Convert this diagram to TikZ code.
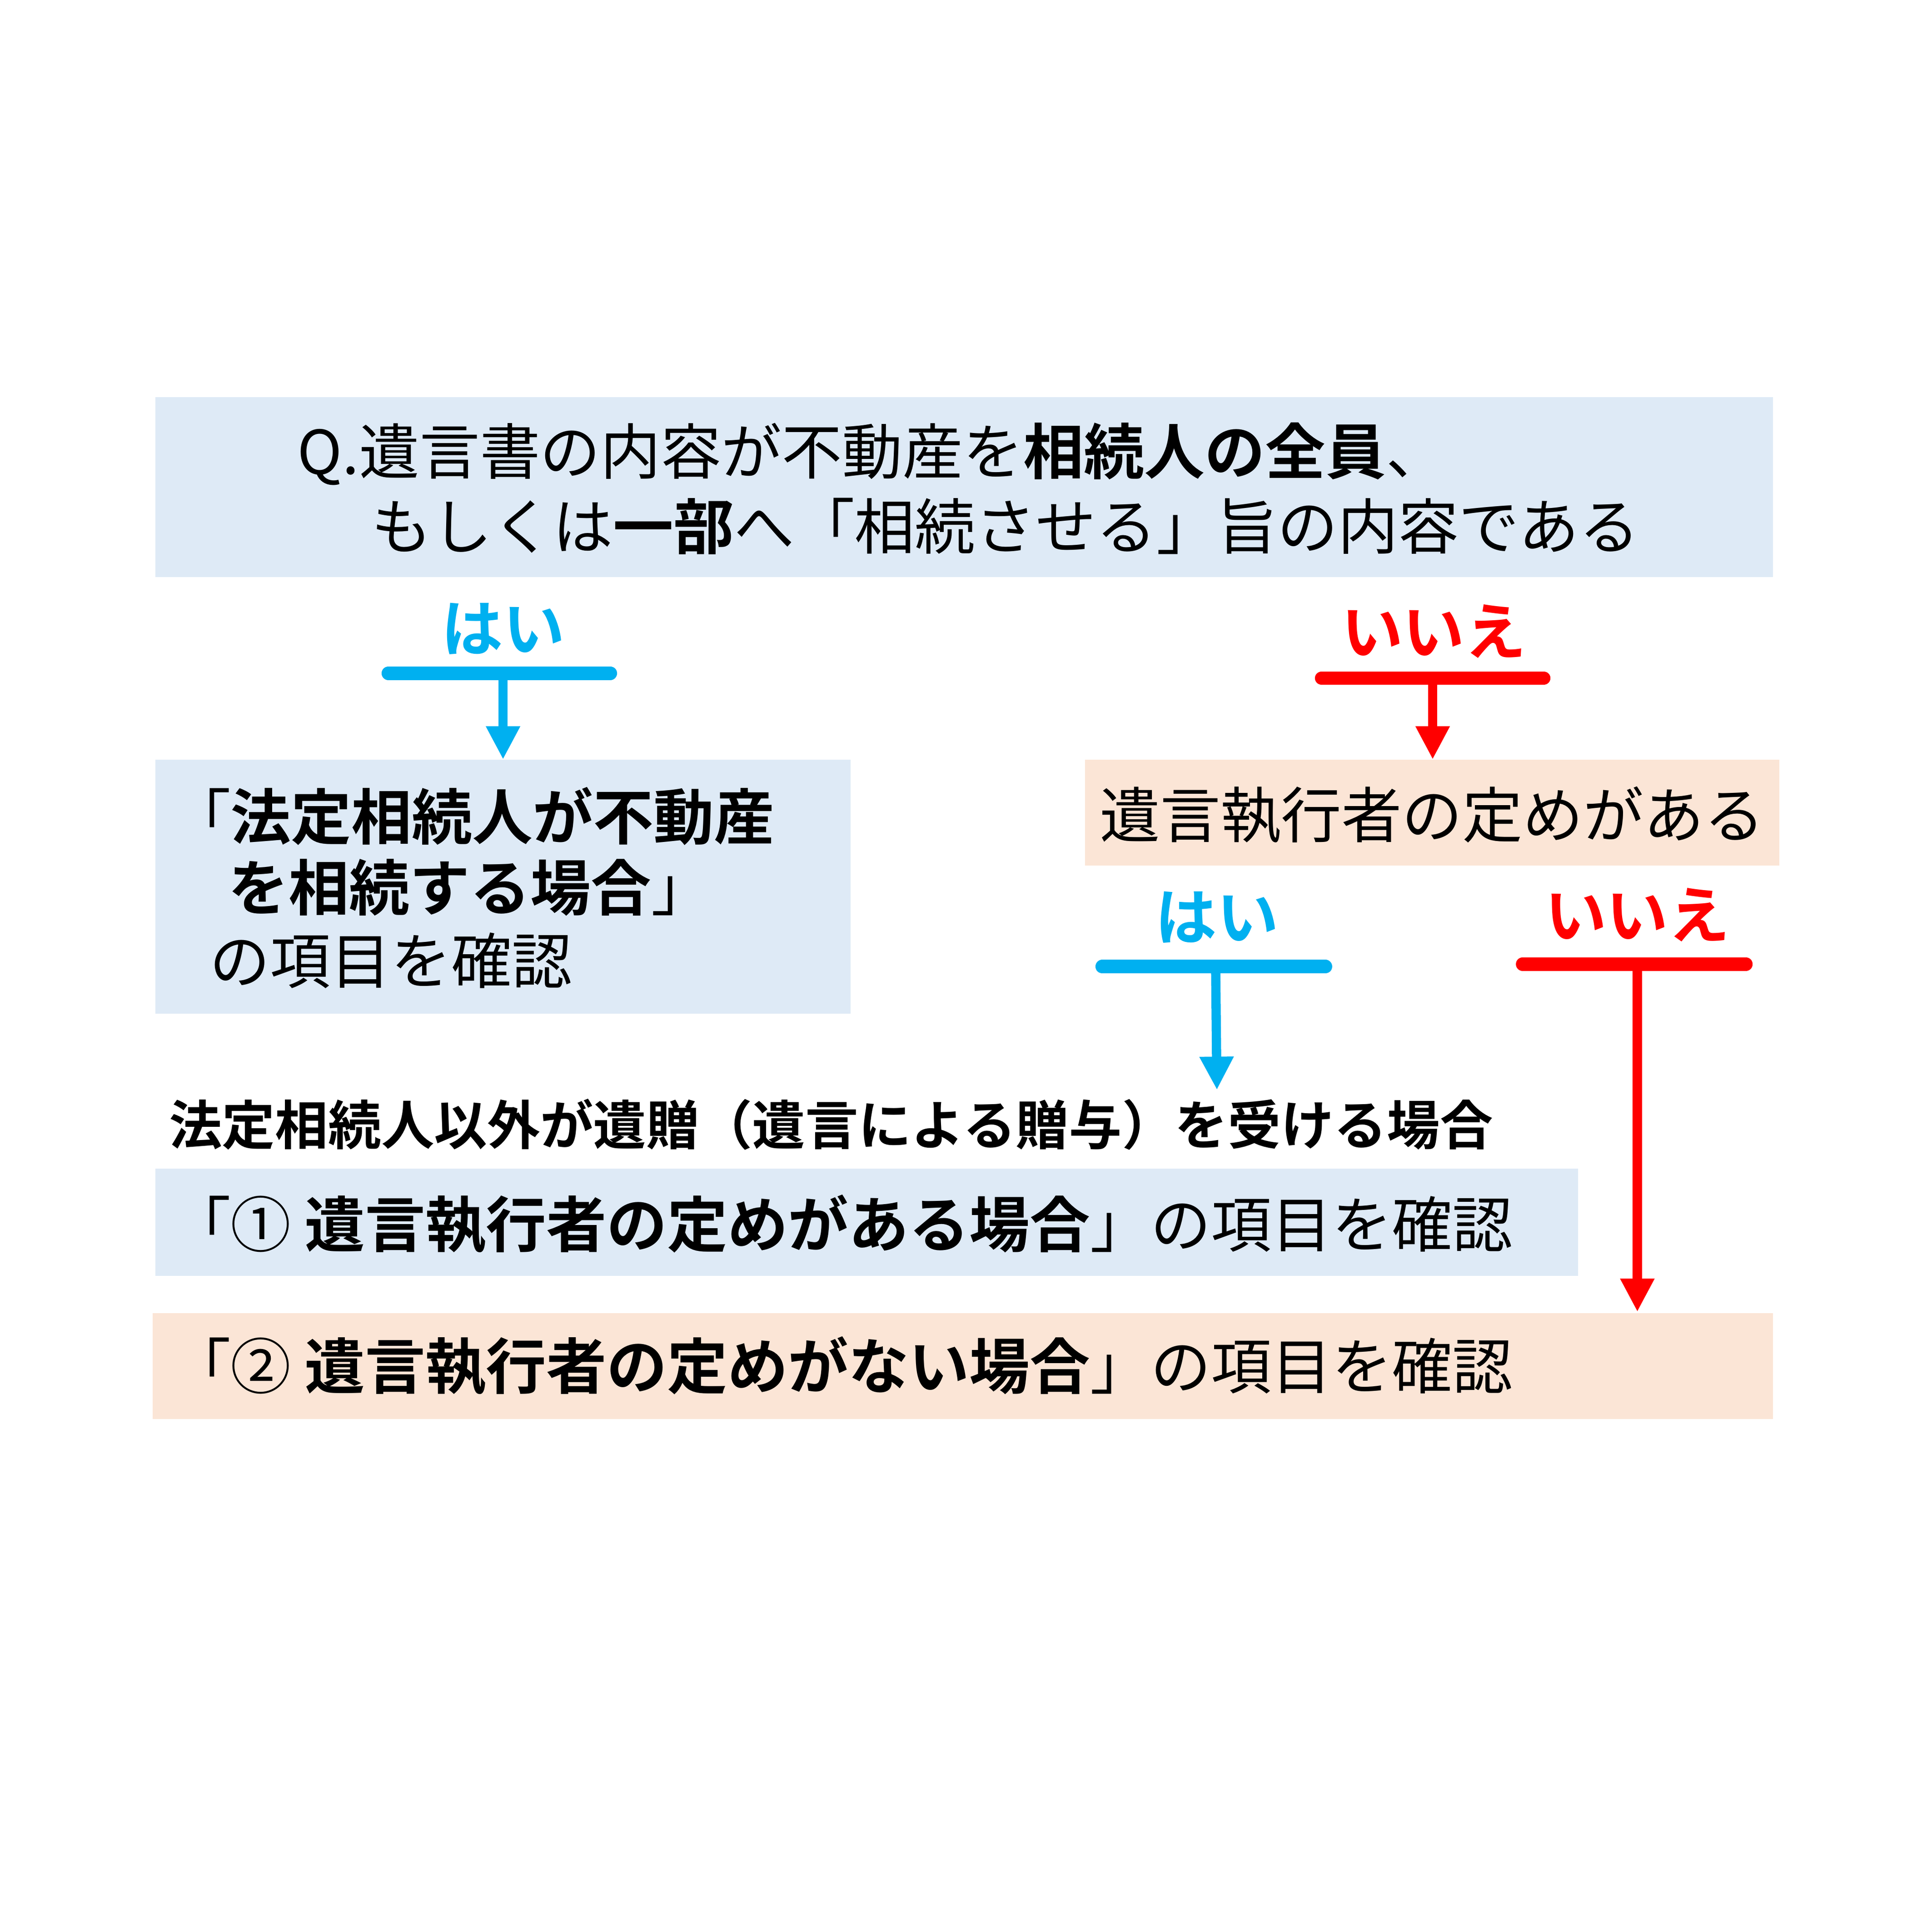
\documentclass[tikz,border=0pt]{standalone}
\usepackage{fontspec}
\setmainfont{Noto Sans CJK JP}[BoldFont={Noto Sans CJK JP Bold}]
\usetikzlibrary{arrows.meta}
\definecolor{boxblue}{HTML}{DEEAF6}
\definecolor{boxpeach}{HTML}{FBE5D6}
\definecolor{yesblue}{HTML}{00B0F0}
\definecolor{nored}{HTML}{FF0000}
\tikzset{
  bluebox/.style={fill=boxblue,draw=none},
  peachbox/.style={fill=boxpeach,draw=none},
  txt/.style={anchor=west,inner sep=0pt,font=\fontsize{49}{58}\selectfont},
  yeslbl/.style={inner sep=0pt,text=yesblue,font=\fontsize{50}{58}\selectfont\bfseries},
  nolbl/.style={inner sep=0pt,text=nored,font=\fontsize{50}{58}\selectfont\bfseries},
  bar/.style={line width=11pt,line cap=round},
  flow/.style={line width=7.5pt,-{Triangle[length=27pt,width=26pt]}},
}
\begin{document}
\begin{tikzpicture}[x=1pt,y=-1pt]
\useasboundingbox[fill=white] (0,0) rectangle (1567,1567);
% boxes
\fill[bluebox] (126,322) rectangle (1438,468);
\fill[bluebox] (126,616) rectangle (690,822);
\fill[peachbox] (880,616) rectangle (1443,702);
\fill[bluebox] (126,948) rectangle (1280,1035);
\fill[peachbox] (124,1065) rectangle (1438,1151);
\coordinate (lbtop) at (408,616);
\coordinate (rbtop) at (1162,616);
\coordinate (r1top) at (987,884);
\coordinate (r2top) at (1328,1064);
% question
\node[txt] (q1) at (241,368) {Q.遺言書の内容が不動産を\textbf{相続人の全員}、};
\node[txt] (q2) at (301,427) {もしくは\textbf{一部}へ「相続させる」旨の内容である};
% first yes/no
\node[yeslbl] (yes1) at (408,510) {はい};
\node[nolbl] (no1) at (1163,512) {いいえ};
\coordinate (yb1l) at (315,546); \coordinate (yb1r) at (495,546); \coordinate (yb1m) at (408,546);
\coordinate (nb1l) at (1072,550); \coordinate (nb1r) at (1252,550); \coordinate (nb1m) at (1162,550);
\draw[bar,yesblue] (yb1l) -- (yb1r);
\draw[flow,yesblue] (yb1m) -- (lbtop);
\draw[bar,nored] (nb1l) -- (nb1r);
\draw[flow,nored] (nb1m) -- (rbtop);
% left box text
\node[txt] (l1) at (138,662) {「\textbf{法定相続人が不動産}};
\node[txt] (l2) at (185,720) {\textbf{を相続する場合}」};
\node[txt] (l3) at (170,779) {の項目を確認};
% right box text
\node[txt] (r1) at (892,661) {遺言執行者の定めがある};
% second yes/no
\node[yeslbl] (yes2) at (987,744) {はい};
\node[nolbl] (no2) at (1328,742) {いいえ};
\coordinate (yb2l) at (894,784); \coordinate (yb2r) at (1075,784); \coordinate (yb2m) at (986,784);
\coordinate (nb2l) at (1235,782); \coordinate (nb2r) at (1416,782); \coordinate (nb2m) at (1328,782);
\draw[bar,yesblue] (yb2l) -- (yb2r);
\draw[flow,yesblue] (yb2m) -- (r1top);
\draw[bar,nored] (nb2l) -- (nb2r);
\draw[flow,nored] (nb2m) -- (r2top);
% note
\node[txt,font=\fontsize{43}{50}\selectfont\bfseries] (note) at (137,912) {法定相続人以外が遺贈（遺言による贈与）を受ける場合};
% result boxes
\node[txt] (c1) at (138,993) {「① \textbf{遺言執行者の定めがある場合}」の項目を確認};
\node[txt] (c2) at (138,1108) {「② \textbf{遺言執行者の定めがない場合}」の項目を確認};
\end{tikzpicture}
\end{document}
